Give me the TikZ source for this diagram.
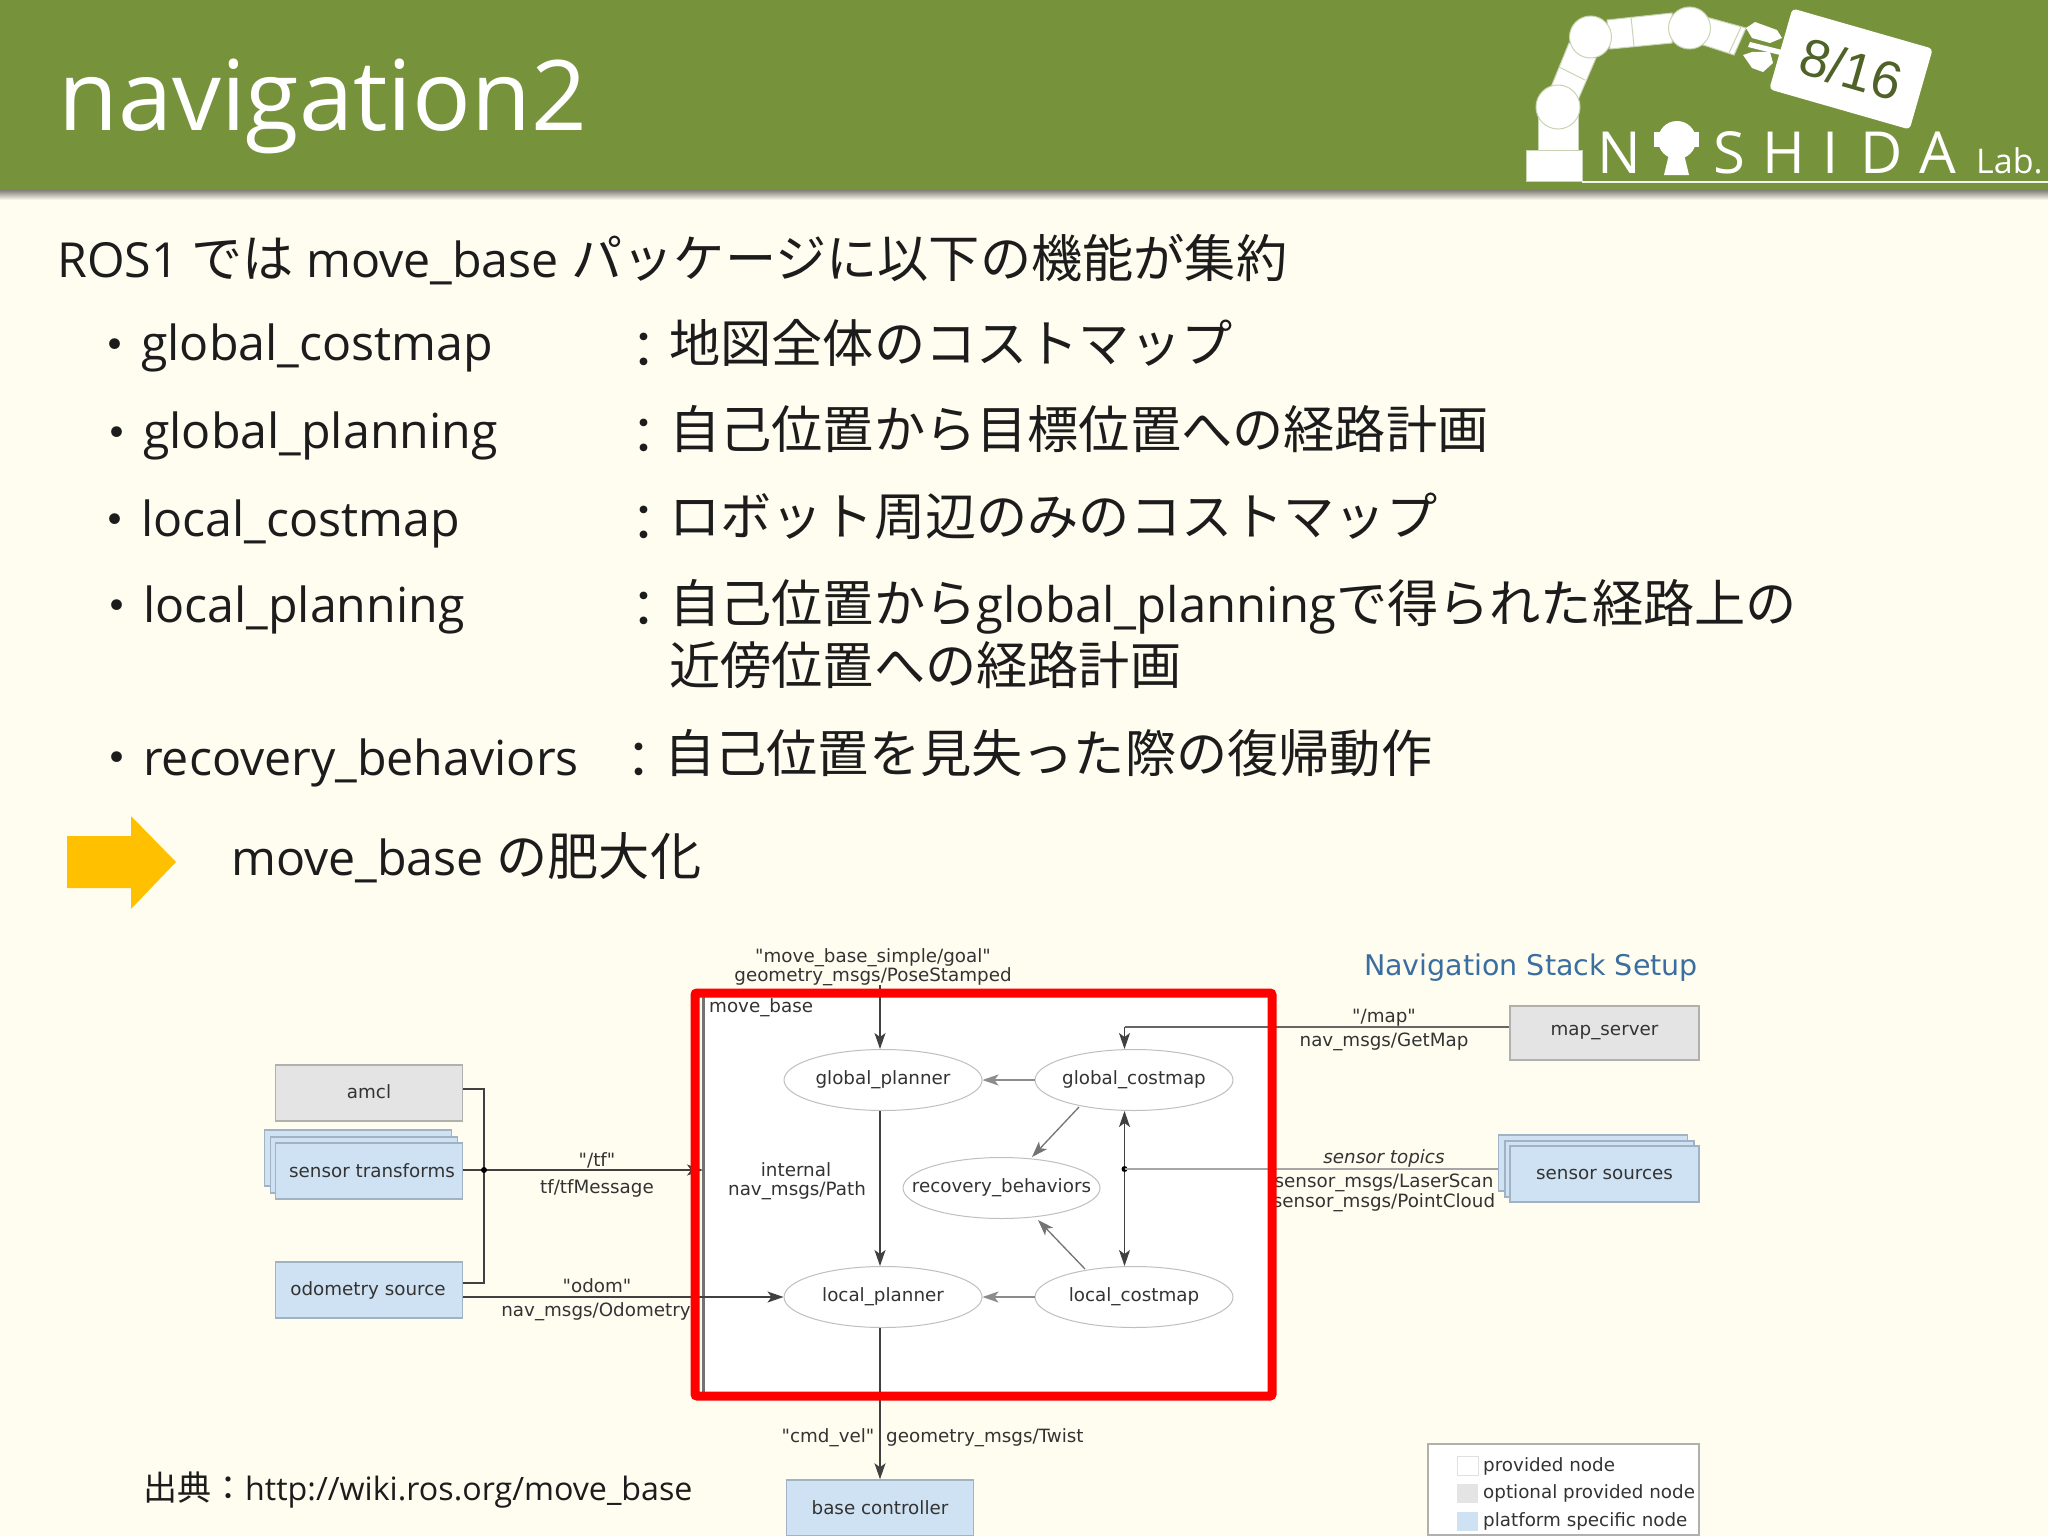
\documentclass[tikz,border=0pt]{standalone}
\usepackage{fontspec}
\setmainfont{Open Sans}
\newfontfamily\jpf{Noto Sans CJK JP}
\newfontfamily\dejavu{DejaVu Sans}
\newfontfamily\arialf{Liberation Sans}
\usetikzlibrary{arrows.meta,shapes.geometric,calc}
\definecolor{bgc}{HTML}{FFFDF0}
\definecolor{hdr}{HTML}{76933C}
\definecolor{txt}{HTML}{1C1C1C}
\definecolor{dtxt}{HTML}{333333}
\definecolor{gbox}{HTML}{E4E4E4}
\definecolor{gedge}{HTML}{B0B0AC}
\definecolor{bbox}{HTML}{CFE2F3}
\definecolor{bedge}{HTML}{A0B2C4}
\definecolor{navc}{HTML}{3B6EA0}
\definecolor{orng}{HTML}{FFC000}
\definecolor{tagt}{HTML}{4F6228}
\definecolor{jointc}{HTML}{C9D4B4}
\newcommand{\fs}[1]{\fontsize{#1}{#1}\selectfont}
\newcommand{\J}[1]{{\jpf\fs{51.2}#1}}
\tikzset{
  x=1pt,y=-1pt,
  bodytext/.style={anchor=base west,inner sep=0,text=txt,font=\fs{48.3}},
  jptext/.style={anchor=base west,inner sep=0,text=txt,font=\jpf\fs{51.2}},
  bulletmark/.style={anchor=base,inner sep=0,text=txt,font=\jpf\fs{51}},
  gnode/.style={draw=gedge,line width=1.5pt,fill=gbox,minimum width=187pt,minimum height=56pt,inner sep=0,text=dtxt,font=\dejavu\fs{18.3}},
  bnode/.style={draw=bedge,line width=1.5pt,fill=bbox,minimum width=187pt,minimum height=56pt,inner sep=0,text=dtxt,font=\dejavu\fs{18.3}},
  enode/.style={ellipse,draw=black!25,line width=1pt,fill=white,minimum width=198pt,minimum height=61pt,inner sep=0,inner xsep=-12pt,text=dtxt,font=\dejavu\fs{18.3}},
  lab/.style={anchor=base,inner sep=0,text=dtxt,font=\dejavu\fs{18.3}},
  conn/.style={draw=black!75,line width=1.3pt},
  fconn/.style={draw=black!45,line width=2pt},
  tip/.style={-{Stealth[length=16pt,width=11pt,inset=4pt]}},
  jdot/.style={circle,fill=black,minimum size=6pt,inner sep=0},
  logoletter/.style={anchor=base,inner sep=0,text=white,font=\fs{58}},
  armlink/.style={fill=white,draw=jointc,line width=1pt},
  swatch/.style={minimum width=21pt,minimum height=19pt,inner sep=0},
}
\begin{document}
\begin{tikzpicture}
\useasboundingbox (0,0) rectangle (2048,1536);
\fill[bgc] (0,0) rectangle (2048,1536);
% header
\shade[top color=black!50!bgc,bottom color=bgc] (0,190) rectangle (2048,200);
\fill[hdr] (0,0) rectangle (2048,190);
\node[anchor=base west,inner sep=0,text=white,font=\fs{97.5}] (title) at (58,131) {navigation2};
% logo
\draw[armlink] (1538,113) -- (1538,151) -- (1578,151) -- (1578,113) -- cycle;
\draw[armlink] (1569,43) -- (1596,58) -- (1578,100) -- (1551,87) -- cycle;
\draw[armlink] (1607,20) -- (1672,13) -- (1672,43) -- (1610,49) -- cycle;
\draw[armlink] (1706,17) -- (1746,28) -- (1734,55) -- (1697,43) -- cycle;
\draw[jointc,line width=1pt] (1559,67) -- (1585,80);
\draw[jointc,line width=1pt] (1631,17) -- (1634,46);
\draw[jointc,line width=1pt] (1741,27) -- (1729,53);
\fill[white] (1746,28) -- (1755,22) -- (1777,30) -- (1782,38) -- (1770,43) -- (1752,38) -- cycle;
\fill[white] (1743,55) -- (1752,68) -- (1763,72) -- (1773,63) -- (1770,52) -- (1752,52) -- cycle;
\fill[white] (1750,42) -- (1782,50) -- (1780,55) -- (1748,47) -- cycle;
\draw[armlink] (1558,107) circle (22);
\draw[armlink] (1590.5,37) circle (21);
\draw[armlink] (1689.5,28) circle (21);
\draw[armlink] (1526,151) rectangle (1582,181);
\draw[white!90!hdr,line width=1.5pt] (1582,182) -- (2048,182);
\node[logoletter] (ln) at (1619.5,174) {N};
\fill[white] (1677,140) circle (19);
\fill[white] (1654,132) rectangle (1661,147);
\fill[white] (1693,132) rectangle (1699,147);
\fill[white] (1670,150) -- (1664,175) -- (1689,175) -- (1683,150) -- cycle;
\node[logoletter] (ls) at (1729,174) {S};
\node[logoletter] (lh) at (1784,174) {H};
\node[logoletter] (li) at (1831,174) {I};
\node[logoletter] (ld) at (1882,174) {D};
\node[logoletter] (la) at (1938,174) {A};
\node[anchor=base west,inner sep=0,text=white,font=\fs{34}] (llab) at (1976,174) {Lab.};
\node[rotate=-16,fill=white,rounded corners=4pt,minimum width=146pt,minimum height=84pt,inner sep=0,text=tagt,font=\arialf\fs{53}] (tag) at (1851,69) {8/16};
% main text
\node[bodytext] (l1) at (57,277) {ROS1 \J{では} move\_base \J{パッケージに以下の機能が集約}};
\node[bulletmark] (b1) at (115,363) {・};
\node[bodytext] (t1) at (141,360) {global\_costmap};
\node[bulletmark] (c1) at (644,368) {：};
\node[jptext] (d1) at (669,362) {地図全体のコストマップ};
\node[bulletmark] (b2) at (117,451) {・};
\node[bodytext] (t2) at (143,448) {global\_planning};
\node[bulletmark] (c2) at (644,454) {：};
\node[jptext] (d2) at (669,448) {自己位置から目標位置への経路計画};
\node[bulletmark] (b3) at (115,538) {・};
\node[bodytext] (t3) at (141,536) {local\_costmap};
\node[bulletmark] (c3) at (644,541) {：};
\node[jptext] (d3) at (669,535) {ロボット周辺のみのコストマップ};
\node[bulletmark] (b4) at (117,624) {・};
\node[bodytext] (t4) at (143,622) {local\_planning};
\node[bulletmark] (c4) at (644,627) {：};
\node[jptext] (d4) at (669,622) {自己位置から{\rmfamily\fs{49}global\_planning}で得られた経路上の};
\node[jptext] (d4b) at (669,684) {近傍位置への経路計画};
\node[bulletmark] (b5) at (117,776) {・};
\node[bodytext] (t5) at (143,775) {recovery\_behaviors};
\node[bulletmark] (c5) at (639,778) {：};
\node[jptext] (d5) at (664,772) {自己位置を見失った際の復帰動作};
\fill[orng] (67,836) -- (131,836) -- (131,816) -- (176,862) -- (131,909) -- (131,888) -- (67,888) -- cycle;
\node[bodytext] (mb) at (231,875) {move\_base \J{の肥大化}};
\node[anchor=base west,inner sep=0,text=txt,font=\fs{32.2}] (src) at (143,1500) {{\jpf\fs{34}出典：}http://wiki.ros.org/move\_base};
% diagram interior
\fill[white] (702,990) rectangle (1272,1396);
\coordinate (mbtop) at (703.5,990);
\coordinate (mbbot) at (703.5,1396);
\draw[black!55,line width=2.5pt] (mbtop) -- (mbbot);
\node[anchor=west,inner sep=0,text=dtxt,font=\dejavu\fs{18.3}] (mblab) at (709,1008) {move\_base};
\node[anchor=base,inner sep=0,text=navc,font=\dejavu\fs{28.5}] (navt) at (1531,975) {Navigation Stack Setup};
% left boxes
\node[gnode] (amcl) at (369,1093) {\raisebox{3pt}{amcl}};
\node[bnode,fill=bbox] (st3) at (358,1158) {};
\node[bnode,fill=bbox] (st2) at (364,1165) {};
\node[bnode] (st) at (369,1171) {\hspace*{6pt}sensor transforms};
\node[bnode] (odo) at (369,1290) {\hspace*{-2pt}odometry source};
\coordinate (jL) at (484,1170);
\draw[conn] (amcl.east |- 0,1089) -- (jL |- 0,1089) -- (jL) -- (jL |- 0,1283) -- (odo.east |- 0,1283);
\coordinate (tfend) at (703,1170);
\draw[conn,tip] (st.east |- jL) -- (tfend);
\node[jdot] (jLd) at (jL) {};
\node[lab] (tf1) at (597,1166) {"/tf"};
\node[lab] (tf2) at (597,1193) {tf/tfMessage};
\node[lab] (od1) at (597,1292) {"odom"};
\node[lab] (od2) at (596,1316) {nav\_msgs/Odometry};
% ellipses
\node[enode] (gp) at (883,1080) {global\_planner};
\node[enode] (lp) at (883,1297) {local\_planner};
\node[enode] (gc) at (1134,1080) {global\_costmap};
\node[enode] (lc) at (1134,1297) {local\_costmap};
\node[enode,inner xsep=-32pt,minimum width=197pt] (rb) at (1001.5,1188) {recovery\_behaviors};
\node[bnode] (bc) at (880,1508) {base controller};
\draw[conn,tip] (odo.east |- 0,1297) -- (lp.west);
\coordinate (goal) at (880,985);
\draw[conn,tip] (goal) -- (goal |- gp.north);
\draw[conn,tip] ([xshift=-3pt]gp.south) -- ([xshift=-3pt]lp.north);
\draw[conn,tip] ([xshift=-3pt]lp.south) -- (bc.north);
\draw[fconn,tip] (gc.west) -- (gp.east);
\draw[fconn,tip] (lc.west) -- (lp.east);
\coordinate (gcrb1) at (1079,1107);
\coordinate (gcrb2) at (1032,1157);
\coordinate (lcrb1) at (1085,1269);
\coordinate (lcrb2) at (1038,1220);
\draw[conn,draw=black!55,tip] (gcrb1) -- (gcrb2);
\draw[conn,draw=black!55,tip] (lcrb1) -- (lcrb2);
\coordinate (jR) at (1124.5,1169);
\draw[conn,{Stealth[length=16pt,width=11pt,inset=4pt]}-{Stealth[length=16pt,width=11pt,inset=4pt]}] (jR |- gc.south) -- (jR |- lc.north);
\node[jdot] (jRd) at (jR) {};
\node[lab] (in1) at (796,1176) {internal};
\node[lab] (in2) at (797,1195) {nav\_msgs/Path};
\node[lab] (cv) at (828,1442) {"cmd\_vel"};
\node[anchor=base west,inner sep=0,text=dtxt,font=\dejavu\fs{18.3}] (tw) at (886,1442) {geometry\_msgs/Twist};
\node[lab] (g1) at (873,962) {"move\_base\_simple/goal"};
\node[lab] (g2) at (873,981) {geometry\_msgs/PoseStamped};
% right boxes
\node[gnode,minimum width=189pt,minimum height=54pt] (ms) at (1604.5,1033) {map\_server};
\node[bnode,minimum width=189pt,minimum height=56pt] (ss3) at (1593,1163) {};
\node[bnode,minimum width=189pt,minimum height=56pt] (ss2) at (1599.5,1169) {};
\node[bnode,minimum width=189pt,minimum height=56pt] (ss) at (1604.5,1174) {sensor sources};
\draw[fconn,draw=black!60] (ms.west |- 0,1027) -- (jR |- 0,1027);
\draw[conn,tip] (jR |- 0,1027) -- (jR |- gc.north);
\draw[fconn,draw=black!35] (jR) -- (ss3.west |- jR);
\node[lab] (m1) at (1384,1022) {"/map"};
\node[lab] (m2) at (1384,1046) {nav\_msgs/GetMap};
\node[lab,font=\dejavu\itshape\fs{18.3}] (s0) at (1384,1163) {sensor topics};
\node[lab] (s1) at (1384,1187) {sensor\_msgs/LaserScan};
\node[lab] (s2) at (1384,1207) {sensor\_msgs/PointCloud};
% legend
\node[draw=gedge,line width=1.5pt,fill=white,minimum width=271pt,minimum height=91pt,inner sep=0] (leg) at (1563.5,1489.5) {};
\node[swatch,draw=black!12,fill=white] (sw1) at (1467.5,1466) {};
\node[swatch,fill=gbox] (sw2) at (1467.5,1493) {};
\node[swatch,fill=bbox] (sw3) at (1467.5,1521) {};
\node[anchor=base west,inner sep=0,text=dtxt,font=\dejavu\fs{18.3}] (lg1) at (1483,1471) {provided node};
\node[anchor=base west,inner sep=0,text=dtxt,font=\dejavu\fs{18.3}] (lg2) at (1483,1498) {optional provided node};
\node[anchor=base west,inner sep=0,text=dtxt,font=\dejavu\fs{18.3}] (lg3) at (1483,1526) {platform specific node};
% red frame
\node[draw=red,line width=9pt,rounded corners=2pt,minimum width=577pt,minimum height=403pt,inner sep=0] (frame) at (983.5,1194.5) {};
\end{tikzpicture}
\end{document}
